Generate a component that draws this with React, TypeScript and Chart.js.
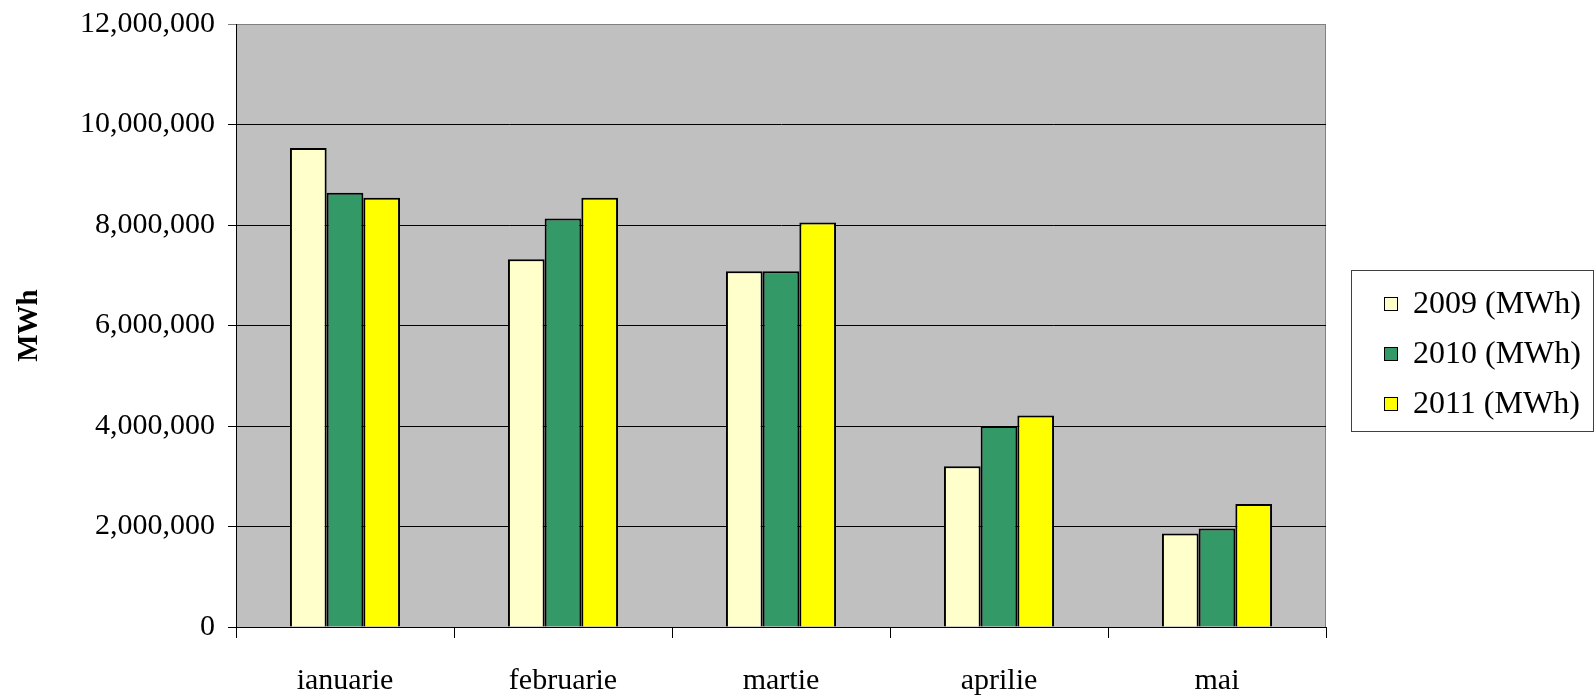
import React, { useEffect, useRef } from "react";
import { Chart, registerables } from "chart.js";

Chart.register(...registerables);

const categories = ["ianuarie", "februarie", "martie", "aprilie", "mai"];
const seriesLabels = ["2009 (MWh)", "2010 (MWh)", "2011 (MWh)"];
const values2009 = [9530000, 7320000, 7080000, 3200000, 1860000];
const values2010 = [8640000, 8130000, 7080000, 4000000, 1960000];
const values2011 = [8540000, 8540000, 8050000, 4210000, 2450000];
const seriesColors = ["#FFFFCC", "#339966", "#FFFF00"];
const yTicks = [0, 2000000, 4000000, 6000000, 8000000, 10000000, 12000000];

const FONT = '"Liberation Serif", "Times New Roman", serif';

const plotBg = {
  id: "plotBg",
  beforeDraw(chart: any) {
    const { ctx, chartArea: a } = chart;
    ctx.save();
    ctx.fillStyle = "#C0C0C0";
    ctx.fillRect(a.left, a.top, a.right - a.left, a.bottom - a.top);
    ctx.strokeStyle = "#808080";
    ctx.lineWidth = 1;
    ctx.beginPath();
    ctx.moveTo(a.left, a.top + 0.5);
    ctx.lineTo(a.right - 0.5, a.top + 0.5);
    ctx.lineTo(a.right - 0.5, a.bottom);
    ctx.stroke();
    ctx.restore();
  },
};

const boxLegend = {
  id: "boxLegend",
  afterDraw(chart: any) {
    const { ctx, chartArea: a } = chart;
    const left = a.right + 25;
    const width = chart.width - 2 - left;
    const height = 161;
    const top = Math.round(chart.height / 2 - height / 2);
    ctx.save();
    ctx.fillStyle = "#FFFFFF";
    ctx.fillRect(left, top, width, height);
    ctx.strokeStyle = "#404040";
    ctx.lineWidth = 1;
    ctx.strokeRect(left + 0.5, top + 0.5, width, height);
    ctx.font = `32px ${FONT}`;
    ctx.textBaseline = "middle";
    ctx.textAlign = "left";
    chart.data.datasets.forEach((ds: any, i: number) => {
      const cy = top + 34 + i * 50;
      ctx.fillStyle = ds.backgroundColor;
      ctx.fillRect(left + 33, cy - 7, 14, 14);
      ctx.strokeStyle = "#000";
      ctx.strokeRect(left + 33.5, cy - 6.5, 13, 13);
      ctx.fillStyle = "#000";
      ctx.fillText(ds.label, left + 62, cy + 1);
    });
    ctx.restore();
  },
};

export default function App() {
  const ref = useRef<HTMLCanvasElement>(null);
  useEffect(() => {
    if (!ref.current) return;
    const seriesValues = [values2009, values2010, values2011];
    const chart = new Chart(ref.current, {
      type: "bar",
      data: {
        labels: categories,
        datasets: seriesLabels.map((label, i) => ({
          label,
          data: seriesValues[i],
          backgroundColor: seriesColors[i],
          borderColor: "#000000",
          borderWidth: 2,
          barPercentage: 1,
          categoryPercentage: 0.505,
        })),
      },
      options: {
        responsive: false,
        animation: false,
        layout: { padding: { top: 24, right: 269, left: 0, bottom: 0 } },
        plugins: {
          legend: { display: false },
          tooltip: { enabled: false },
        },
        scales: {
          x: {
            offset: true,
            grid: {
              offset: true,
              drawOnChartArea: false,
              drawTicks: true,
              tickLength: 11,
              color: "#000",
            },
            border: { color: "#000", width: 1 },
            ticks: {
              color: "#000",
              font: { family: FONT, size: 30 },
              padding: 25,
              maxRotation: 0,
            },
            afterFit(s: any) {
              s.height = 73;
              s.paddingLeft = 0;
              s.paddingRight = 0;
            },
          },
          y: {
            min: 0,
            max: 12000000,
            afterBuildTicks(s: any) {
              s.ticks = yTicks.map((v) => ({ value: v }));
            },
            grid: {
              color: (c: any) => (c.tick && c.tick.value === 12000000 ? "#808080" : "#000"),
              tickLength: 8,
              lineWidth: 1,
            },
            border: { color: "#000", width: 1 },
            ticks: {
              color: "#000",
              font: { family: FONT, size: 30 },
              padding: 13,
              callback: (v: any) => Number(v).toLocaleString("en-US"),
            },
            title: {
              display: true,
              text: "MWh",
              color: "#000",
              font: { family: FONT, size: 29, weight: "bold" },
              padding: { top: 12, bottom: 0 },
            },
            afterFit(s: any) {
              s.width = 236;
              s.paddingTop = 0;
              s.paddingBottom = 0;
            },
          },
        },
      },
      plugins: [plotBg, boxLegend],
    });
    return () => chart.destroy();
  }, []);
  return (
    <div style={{ position: "absolute", left: 0, top: 0, width: 1595, height: 700, background: "#fff" }}>
      <canvas ref={ref} width={1595} height={700} style={{ display: "block" }} />
    </div>
  );
}
